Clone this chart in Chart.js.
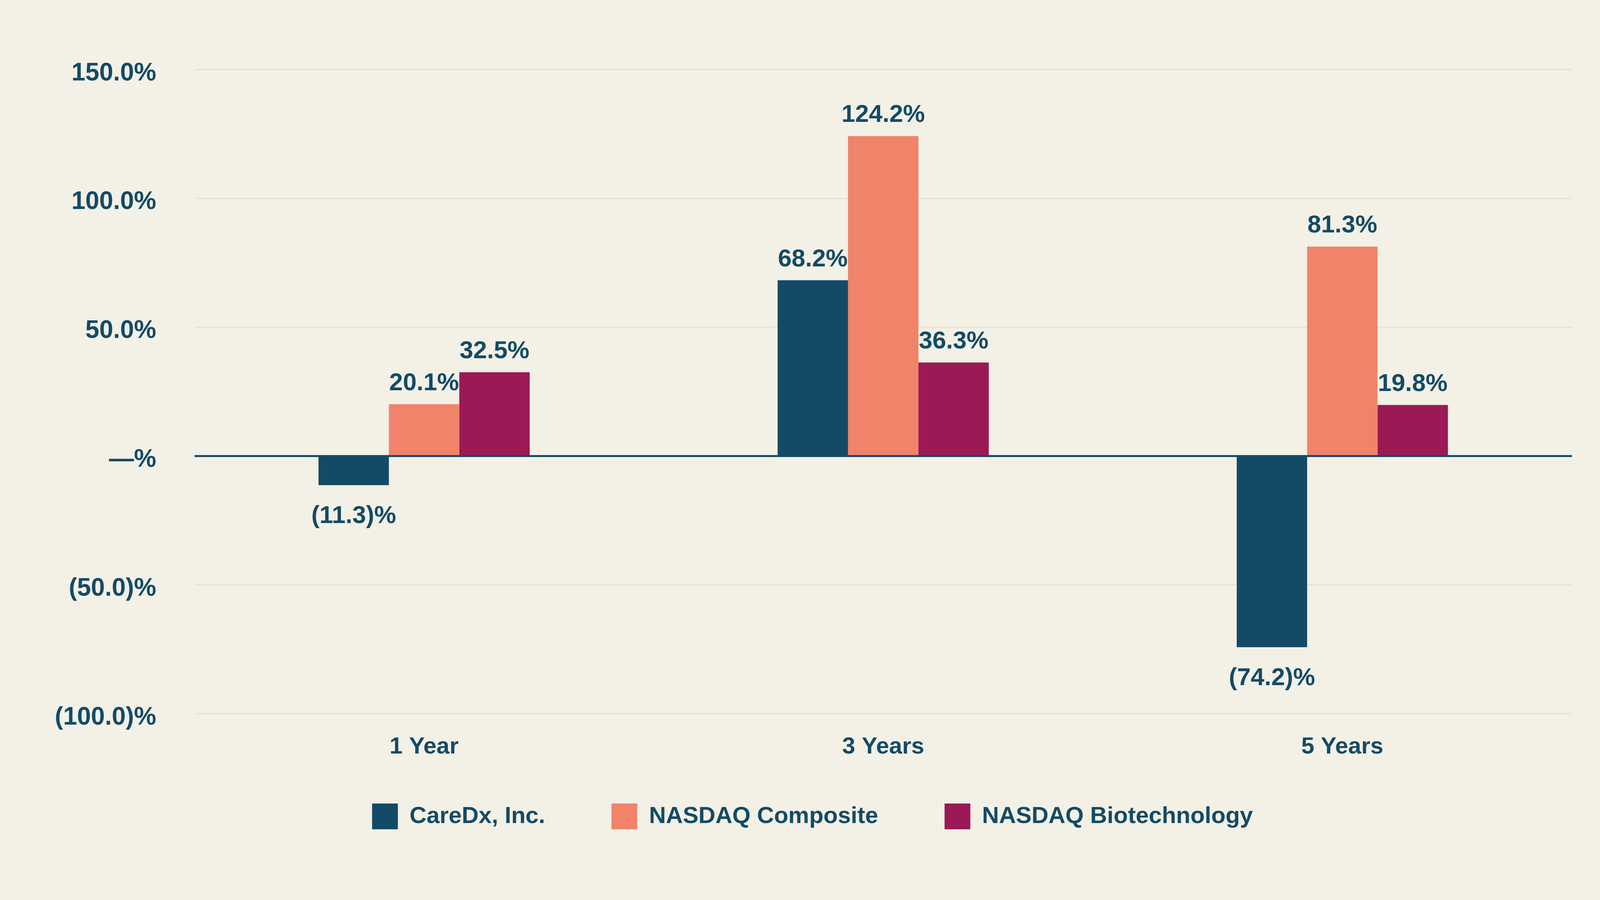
<!DOCTYPE html>
<html>
<head>
<meta charset="utf-8">
<script src="https://cdn.jsdelivr.net/npm/chart.js@4.4.1/dist/chart.umd.min.js"></script>
<style>
  html, body { margin: 0; padding: 0; background: #f3f0e6; }
  #wrap { width: 4176px; height: 2304px; position: relative; }
</style>
</head>
<body>
<div id="wrap"><canvas id="returns"></canvas></div>
<script>
const periods = ['1 Year', '3 Years', '5 Years'];
const careDx = [-11.3, 68.2, -74.2];
const nasdaqComposite = [20.1, 124.2, 81.3];
const nasdaqBiotech = [32.5, 36.3, 19.8];
const yTicks = [-100, -50, 0, 50, 100, 150];

const navy = '#134b66';
const FONT = "'Liberation Sans', Arial, sans-serif";

function pct(v) {
  if (v === 0) return '\u2014%';
  if (v < 0) return '(' + Math.abs(v).toFixed(1) + ')%';
  return v.toFixed(1) + '%';
}

// value labels above / below each bar
const barLabels = {
  id: 'barLabels',
  afterDatasetsDraw(chart) {
    const ctx = chart.ctx;
    ctx.save();
    ctx.font = 'bold 63px ' + FONT;
    ctx.fillStyle = navy;
    ctx.textAlign = 'center';
    ctx.textBaseline = 'alphabetic';
    chart.data.datasets.forEach((ds, i) => {
      chart.getDatasetMeta(i).data.forEach((bar, j) => {
        const v = ds.data[j];
        if (v >= 0) {
          ctx.fillText(pct(v), bar.x, bar.y - 36);
        } else {
          ctx.fillText(pct(v), bar.x, bar.y + 97);
        }
      });
    });
    ctx.restore();
  }
};

new Chart(document.getElementById('returns'), {
  type: 'bar',
  data: {
    labels: periods,
    datasets: [{
      label: 'CareDx, Inc.',
      data: careDx,
      backgroundColor: navy
    }, {
      label: 'NASDAQ Composite',
      data: nasdaqComposite,
      backgroundColor: '#f0836a'
    }, {
      label: 'NASDAQ Biotechnology',
      data: nasdaqBiotech,
      backgroundColor: '#9b1955'
    }]
  },
  options: {
    responsive: true,
    maintainAspectRatio: false,
    devicePixelRatio: 1,
    animation: false,
    layout: {
      padding: { top: 178, right: 152, bottom: 171, left: 136 }
    },
    datasets: {
      bar: {
        categoryPercentage: 0.46,
        barPercentage: 1.0,
        borderWidth: 0
      }
    },
    scales: {
      x: {
        grid: { display: false, drawTicks: false },
        border: { display: false },
        ticks: {
          color: navy,
          // mirror keeps the labels unclipped while the axis box stays short,
          // the negative padding pushes them back below the plot
          mirror: true,
          padding: -121,
          font: { family: FONT, size: 60, weight: 'bold' }
        },
        afterFit(scale) { scale.height = 60; }
      },
      y: {
        min: -100,
        max: 150,
        afterBuildTicks(scale) {
          scale.ticks = yTicks.map(v => ({ value: v }));
        },
        grid: {
          drawTicks: false,
          color: c => (c.tick && c.tick.value === 0) ? navy : '#e6e4df',
          lineWidth: c => (c.tick && c.tick.value === 0) ? 5 : 4
        },
        border: { display: false },
        ticks: {
          color: navy,
          padding: 98,
          labelOffset: 10,
          font: { family: FONT, size: 64, weight: 'bold' },
          callback: v => pct(v)
        },
        afterFit(scale) { scale.width = 362; }
      }
    },
    plugins: {
      legend: {
        position: 'bottom',
        labels: {
          color: navy,
          boxWidth: 66,
          boxHeight: 66,
          padding: 170,
          font: { family: FONT, size: 60, weight: 'bold' }
        }
      },
      tooltip: { enabled: false }
    }
  },
  plugins: [barLabels]
});
</script>
</body>
</html>
